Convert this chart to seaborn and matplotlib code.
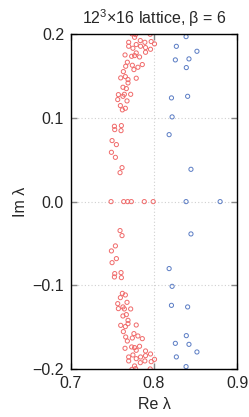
import matplotlib
matplotlib.use("Agg")
import matplotlib.pyplot as plt
import seaborn as sns
import numpy as np
import pandas as pd

# eigenvalues with Im > 0 (their complex conjugates are plotted too)
red_re = [0.7734, 0.7778, 0.7954, 0.7766, 0.7695, 0.7835, 0.7890, 0.7966, 0.8006,
          0.7695, 0.7746, 0.7786, 0.7838, 0.7898, 0.7958, 0.7651, 0.7731, 0.7766,
          0.7786, 0.7826, 0.7898, 0.7679, 0.7659, 0.7739, 0.7806, 0.7758, 0.7859,
          0.7631, 0.7655, 0.7599, 0.7687, 0.7786, 0.7687, 0.7626, 0.7667, 0.7571,
          0.7643, 0.7626, 0.7719, 0.7563, 0.7675, 0.7595, 0.7655, 0.7619, 0.7523,
          0.7527, 0.7607, 0.7603, 0.7495, 0.7547, 0.7487, 0.7535, 0.7615, 0.7591]
red_im = [0.2004, 0.1995, 0.1999, 0.1963, 0.1903, 0.1924, 0.1903, 0.1912, 0.1884,
          0.1856, 0.1832, 0.1876, 0.1856, 0.1840, 0.1820, 0.1752, 0.1736, 0.1744,
          0.1776, 0.1728, 0.1784, 0.1665, 0.1617, 0.1629, 0.1605, 0.1577, 0.1637,
          0.1553, 0.1493, 0.1478, 0.1458, 0.1474, 0.1418, 0.1366, 0.1350, 0.1278,
          0.1282, 0.1258, 0.1282, 0.1219, 0.1203, 0.1147, 0.1115, 0.1096, 0.0900,
          0.0860, 0.0908, 0.0848, 0.0729, 0.0681, 0.0589, 0.0529, 0.0406, 0.0346]
# real eigenvalues
red_real = [0.7483, 0.7635, 0.7683, 0.7727, 0.7883, 0.7990]

blue_re = [0.8386, 0.8269, 0.8517, 0.8257, 0.8421, 0.8389, 0.8210, 0.8405, 0.8218,
           0.8182, 0.8445]
blue_im = [0.1971, 0.1855, 0.1796, 0.1693, 0.1705, 0.1601, 0.1239, 0.1258, 0.1012,
           0.0800, 0.0386]
blue_real = [0.8386, 0.8796]


def spectrum(re, im, real):
    re = np.array(re)
    im = np.array(im)
    return pd.DataFrame({"re": np.concatenate([re, re, real]),
                         "im": np.concatenate([im, -im, np.zeros(len(real))])})


red = spectrum(red_re, red_im, red_real)
blue = spectrum(blue_re, blue_im, blue_real)

sns.set_style("ticks")
plt.rcParams["font.family"] = ["Liberation Sans", "DejaVu Sans"]
plt.rcParams["axes.unicode_minus"] = True
plt.rcParams["mathtext.fontset"] = "custom"
plt.rcParams["mathtext.rm"] = "Liberation Sans"
plt.rcParams["mathtext.it"] = "Liberation Sans"

fig = plt.figure(figsize=(2.49, 4.17), dpi=100)
ax = fig.add_axes([0.285, 0.115, 0.667, 0.803])

ax.grid(True, color="#d0d0d0", linestyle=(0, (1, 2)), linewidth=0.8)
ax.set_axisbelow(True)

sns.scatterplot(data=red, x="re", y="im", ax=ax, marker="o", s=9,
                facecolor="none", edgecolor="#f06a6a", linewidth=0.7)
sns.scatterplot(data=blue, x="re", y="im", ax=ax, marker="o", s=9,
                facecolor="none", edgecolor="#5a7cc4", linewidth=0.7)

ax.set_xlim(0.7, 0.9)
ax.set_ylim(-0.2, 0.2)
ax.set_xticks([0.7, 0.8, 0.9])
ax.set_yticks([-0.2, -0.1, 0.0, 0.1, 0.2])
ax.set_xticklabels(["0.7", "0.8", "0.9"])
ax.set_yticklabels(["\u22120.2", "\u22120.1", "0.0", "0.1", "0.2"])
ax.tick_params(direction="in", top=True, right=True, length=4, width=1,
               color="#888888", labelsize=11.5, pad=5)
for sp in ax.spines.values():
    sp.set_linewidth(1.0)
    sp.set_color("black")

ax.set_xlabel("Re \u03bb", fontsize=11.5, labelpad=4)
ax.set_ylabel("Im \u03bb", fontsize=11.5, labelpad=3)
ax.set_title("12$^\\mathregular{3}$\u00d716 lattice, \u03b2 = 6", fontsize=11.5, pad=7)

fig.savefig("out.png", dpi=100)
